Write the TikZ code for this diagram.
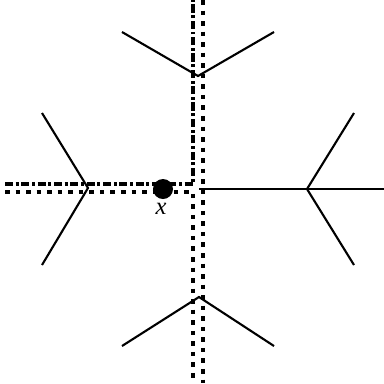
\documentclass[tikz,border=0pt]{standalone}
\usepackage{fontspec}
\setmainfont{Liberation Serif}
\tikzset{
  branch/.style={line width=1.2pt},
  dotline/.style={line width=2.3pt, dash pattern=on 2.6pt off 3.4pt},
  dashdotline/.style={line width=2.1pt, dash pattern=on 4.6pt off 1.5pt on 1.7pt off 1.5pt},
  vertex/.style={circle, fill=black, inner sep=0pt, minimum size=0.4cm},
}
\begin{document}
\begin{tikzpicture}[x=0.02cm,y=-0.02cm]
  \useasboundingbox (0,0) rectangle (384,383);

%% junctions
  \coordinate (c) at (199,189);
  \coordinate (t) at (198,76);
  \coordinate (b) at (199,297);
  \coordinate (l) at (88,188);
  \coordinate (r) at (307,189);

%% leaves
  \coordinate (tl) at (122,32);  \coordinate (tr) at (274,32);
  \coordinate (bl) at (122,346); \coordinate (br) at (274,346);
  \coordinate (lu) at (42,113);  \coordinate (ld) at (42,265);
  \coordinate (ru) at (354,113); \coordinate (rd) at (354,265);
  \coordinate (re) at (384,189);

%% branches
  \draw[branch] (tl) -- (t) -- (tr);
  \draw[branch] (bl) -- (b) -- (br);
  \draw[branch] (lu) -- (l) -- (ld);
  \draw[branch] (ru) -- (r) -- (rd);
  \draw[branch] (c) -- (re);

%% paths
  \coordinate (ddw) at (5,184);   \coordinate (ddc) at (193,184);
  \coordinate (ddn) at (193,0);
  \coordinate (dtw) at (5,192);   \coordinate (dtc) at (193,192);
  \coordinate (dts) at (193,383);
  \coordinate (dvn) at (203,0);   \coordinate (dvs) at (203,383);
  \draw[dashdotline] (ddw) -- (ddc) -- (ddn);
  \draw[dotline] (dtw) -- (dtc) -- (dts);
  \draw[dotline] (dvn) -- (dvs);

%% vertex
  \node[vertex] (v) at (163,189) {};
  \node[font=\fontsize{14}{16}\selectfont] (xlab) at (161,209) {\textit{x}};
\end{tikzpicture}
\end{document}
